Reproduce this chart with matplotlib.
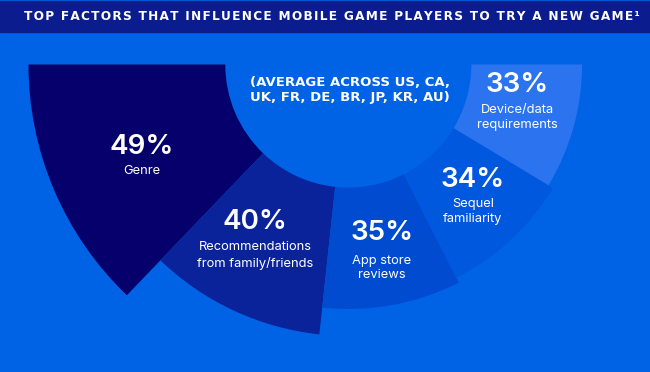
import matplotlib.pyplot as plt
import matplotlib.patches as mpatches
import numpy as np

# Data
factors = ['Genre', 'Recommendations\nfrom family/friends', 'App store\nreviews',
           'Sequel\nfamiliarity', 'Device/data\nrequirements']
values = [49, 40, 35, 34, 33]
pct_labels = ['49%', '40%', '35%', '34%', '33%']

title = 'TOP FACTORS THAT INFLUENCE MOBILE GAME PLAYERS TO TRY A NEW GAME\u00b9'
subtitle = '(AVERAGE ACROSS US, CA,\nUK, FR, DE, BR, JP, KR, AU)'

# Style
bg = '#0063E6'
header_col = '#0B1D8E'
wedge_cols = ['#05006B', '#0A239A', '#004BCF', '#0058DE', '#2C73F0']
W, H = 650, 372
plt.rcParams['font.family'] = ['Inter', 'DejaVu Sans']

fig = plt.figure(figsize=(W / 100, H / 100), dpi=100, facecolor=bg)

# header band, title letter-spaced with hair spaces
fig.patches.append(mpatches.Rectangle((0, 1 - 32 / H), 1, 31 / H, transform=fig.transFigure,
                                      color=header_col, zorder=0))
fig.text(332 / W, 1 - 16 / H, '\u200a'.join(title), color='white', fontsize=8.7,
         fontweight='bold', family='DejaVu Sans', ha='center', va='center')

# polar axes placed so the centre sits at (348, 64) px
cx, cy = 348.3, 64.5
px_per_unit = 5.38
rorigin = -10.45
rmax = 50
hole = 12.42
R = (rmax - rorigin) * px_per_unit
ax = fig.add_axes([(cx - R) / W, (H - cy - R) / H, 2 * R / W, 2 * R / H], projection='polar')
ax.set_rorigin(rorigin)
ax.set_ylim(0, rmax)
ax.axis('off')

vals = np.array(values, dtype=float)
widths = vals / vals.sum() * np.pi
starts = np.pi + np.concatenate([[0], np.cumsum(widths)[:-1]])
ax.bar(starts, vals - hole, width=widths, bottom=hole, align='edge',
       color=wedge_cols, edgecolor='none', linewidth=0)

# labels
pct_xy = [(142, 147), (255, 222), (382, 233), (473, 180), (517, 85)]
txt_xy = [(142, 171), (255, 255.5), (382, 268), (473, 211.5), (517, 117.5)]
for p, t, (px, py), (tx, ty) in zip(pct_labels, factors, pct_xy, txt_xy):
    fig.text(px / W, 1 - py / H, p, color='white', fontsize=20, fontweight='semibold',
             ha='center', va='center')
    fig.text(tx / W, 1 - ty / H, t, color='white', fontsize=9.3, ha='center', va='center',
             linespacing=1.3)

fig.text(350 / W, 1 - 90 / H, subtitle, color='white', fontsize=9.5, fontweight='bold',
         family='DejaVu Sans', ha='center', va='center', linespacing=1.25)

fig.savefig('out.png', dpi=100, facecolor=bg)
